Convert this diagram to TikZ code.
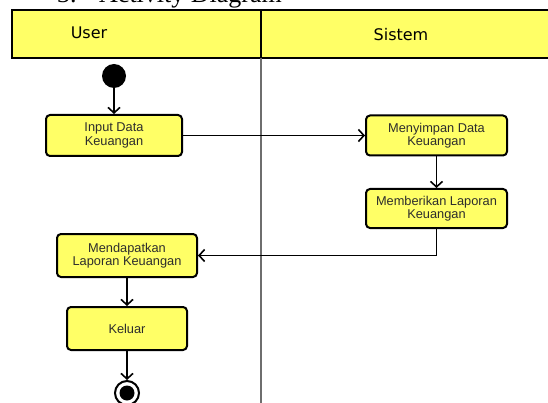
\documentclass[tikz,border=0pt]{standalone}
\usepackage{fontspec}
\setmainfont{Liberation Sans}
\newfontfamily\titlefont{Liberation Serif}
\newfontfamily\lanefont{DejaVu Sans}
\usetikzlibrary{arrows.meta}
\definecolor{umlyellow}{RGB}{255,255,102}
\definecolor{boxtext}{RGB}{45,45,45}
\definecolor{lanegray}{RGB}{110,110,110}
\begin{document}
\begin{tikzpicture}[x=1pt,y=-1pt,
  act/.style={draw=black, line width=2pt, rounded corners=4pt, fill=umlyellow,
    font=\fontsize{12.8}{13.5}\selectfont, text=boxtext, align=center, inner sep=0pt},
  flow/.style={draw=black, line width=1.6pt,
    -{Straight Barb[length=5.5pt,width=12pt,line width=1.6pt]}},
  lanelabel/.style={font=\lanefont\fontsize{16}{16}\selectfont, inner sep=0pt},
  titletext/.style={font=\titlefont\fontsize{26}{26}\selectfont, anchor=base west, inner sep=0pt}]
\useasboundingbox (0,0) rectangle (548,403);
\begin{scope}
\clip (0,0) rectangle (548,403);
% title (cut off at the top)
\node[titletext] (num) at (57,3) {3.};
\node[titletext] (title) at (99,3) {Activity Diagram};
% swimlane header
\draw[fill=umlyellow, line width=1.3pt] (12,10) rectangle (556,58);
\draw[line width=1.3pt] (261,10) -- (261,58);
\draw[line width=1.4pt, lanegray] (261,58) -- (261,403);
\node[lanelabel] (user) at (89,33) {User};
\node[lanelabel] (sistem) at (401,35) {Sistem};
% nodes
\node[circle, fill=black, minimum size=24pt, inner sep=0pt] (start) at (114,76) {};
\node[act, minimum width=136pt, minimum height=41pt] (input) at (114,135.5) {Input Data\\Keuangan};
\node[act, minimum width=141pt, minimum height=40pt] (simpan) at (436.5,135.5) {Menyimpan Data\\Keuangan};
\node[act, minimum width=141pt, minimum height=39pt] (beri) at (436.5,208.5) {Memberikan Laporan\\Keuangan};
\node[act, minimum width=140pt, minimum height=43pt] (dapat) at (127,255.5) {Mendapatkan\\Laporan Keuangan};
\node[act, minimum width=120pt, minimum height=43pt] (keluar) at (127,328.5) {Keluar};
\node[circle, draw=black, line width=2pt, minimum size=24pt, inner sep=0pt] (end) at (127,393) {};
\fill[black] (end.center) circle (7.5pt);
% connectors
\draw[flow] (start) -- (input);
\draw[flow] (input) -- (simpan);
\draw[flow] (simpan) -- (beri);
\draw[flow] (beri.south) |- (dapat.east);
\draw[flow] (dapat) -- (keluar);
\draw[flow] (keluar) -- (end);
\end{scope}
\end{tikzpicture}
\end{document}
